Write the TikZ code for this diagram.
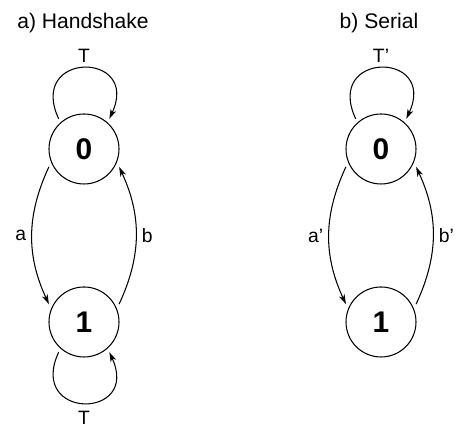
\documentclass[tikz,border=0pt]{standalone}
\usepackage{fontspec}
\setmainfont{Liberation Sans}
\usepackage{tikz}
\usetikzlibrary{arrows.meta}

\begin{document}
\begin{tikzpicture}[
  zst/.style={circle,draw,line width=0.6pt,minimum size=1.4cm,inner sep=0pt,
    outer sep=2.5pt,font=\fontsize{17}{20}\selectfont\bfseries},
  lbl/.style={font=\fontsize{11}{13}\selectfont,inner sep=3pt},
  ttl/.style={font=\fontsize{12}{14}\selectfont,anchor=base},
  trans/.style={->,>={Stealth[length=5.5pt,width=3.4pt,inset=1.6pt]},line width=0.6pt},
  loopy/.style={trans,looseness=3.8}
]
  % 範囲
  \useasboundingbox (0,0) rectangle (9.12,8.5);

  % 見出し
  \node[ttl] (ta) at (1.66,7.934) {a) Handshake};
  \node[ttl] (tb) at (7.58,7.934) {b) Serial};

  % 状態 a)
  \node[zst] (h0) at (1.68,5.52) {0};
  \node[zst] (h1) at (1.68,2.06) {1};

  % 状態 b)
  \node[zst] (s0) at (7.62,5.52) {0};
  \node[zst] (s1) at (7.62,2.06) {1};

  % 遷移 a)
  \draw[loopy] (h0.130) to[out=115,in=65] node[above,lbl]{T} (h0.50);
  \draw[loopy] (h1.230) to[out=245,in=295] node[below=1pt,lbl]{T} (h1.310);
  \draw[trans] (h0.207) to[out=245,in=115] node[left,lbl]{a} (h1.153);
  \draw[trans] (h1.27) to[out=65,in=295] node[right,lbl]{b} (h0.333);

  % 遷移 b)
  \draw[loopy] (s0.130) to[out=115,in=65] node[above,lbl]{T'} (s0.50);
  \draw[trans] (s0.207) to[out=245,in=115] node[left,lbl]{a'} (s1.153);
  \draw[trans] (s1.27) to[out=65,in=295] node[right,lbl]{b'} (s0.333);
\end{tikzpicture}
\end{document}
